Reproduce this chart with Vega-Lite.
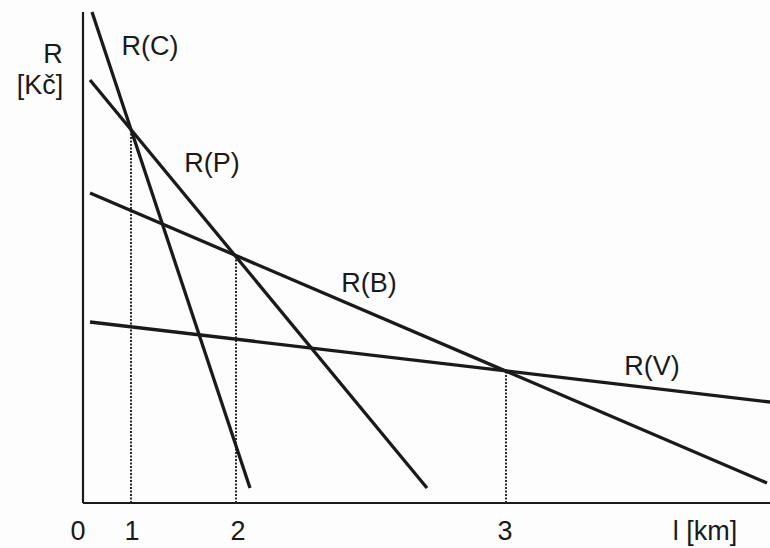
{
  "$schema": "https://vega.github.io/schema/vega-lite/v6.json",
  "width": 770,
  "height": 548,
  "autosize": {"type": "none"},
  "padding": 0,
  "background": "#fdfdfd",
  "config": {"view": {"stroke": null}},
  "datasets": {
    "lines": [
      {"series": "R(C)", "x": 9, "y": 491},
      {"series": "R(C)", "x": 167, "y": 15},
      {"series": "R(P)", "x": 7, "y": 423},
      {"series": "R(P)", "x": 344, "y": 15},
      {"series": "R(B)", "x": 7, "y": 310},
      {"series": "R(B)", "x": 684, "y": 20},
      {"series": "R(V)", "x": 7, "y": 181},
      {"series": "R(V)", "x": 687, "y": 101}
    ],
    "drops": [
      {"x": 48, "y": 0, "y2": 374},
      {"x": 153, "y": 0, "y2": 247},
      {"x": 423, "y": 0, "y2": 132}
    ],
    "axes": [
      {"x": 0, "x2": 0, "y": 0, "y2": 491},
      {"x": 0, "x2": 687, "y": 0, "y2": 0}
    ],
    "labels": [
      {"text": "R", "x": -30, "y": 440},
      {"text": "[Kč]", "x": -43, "y": 409},
      {"text": "R(C)", "x": 67, "y": 448},
      {"text": "R(P)", "x": 129, "y": 331},
      {"text": "R(B)", "x": 286, "y": 211},
      {"text": "R(V)", "x": 569, "y": 128},
      {"text": "0", "x": -5, "y": -37},
      {"text": "1", "x": 49, "y": -37},
      {"text": "2", "x": 155, "y": -37},
      {"text": "3", "x": 422, "y": -37},
      {"text": "l  [km]", "x": 622, "y": -37}
    ]
  },
  "layer": [
    {
      "data": {"name": "axes"},
      "mark": {"type": "rule", "color": "#1a1a1a", "strokeWidth": 2.2},
      "encoding": {
        "x": {"field": "x", "type": "quantitative", "scale": {"domain": [-83, 687], "nice": false, "zero": false}, "axis": null},
        "x2": {"field": "x2"},
        "y": {"field": "y", "type": "quantitative", "scale": {"domain": [-45, 503], "nice": false, "zero": false}, "axis": null},
        "y2": {"field": "y2"}
      }
    },
    {
      "data": {"name": "drops"},
      "mark": {"type": "rule", "color": "#2a2a2a", "strokeWidth": 2, "strokeDash": [2, 1.5]},
      "encoding": {
        "x": {"field": "x", "type": "quantitative"},
        "y": {"field": "y", "type": "quantitative"},
        "y2": {"field": "y2"}
      }
    },
    {
      "data": {"name": "lines"},
      "mark": {"type": "line", "color": "#1a1a1a", "strokeWidth": 3.3},
      "encoding": {
        "x": {"field": "x", "type": "quantitative"},
        "y": {"field": "y", "type": "quantitative"},
        "detail": {"field": "series"}
      }
    },
    {
      "data": {"name": "labels"},
      "mark": {"type": "text", "font": "Liberation Sans", "fontSize": 27, "color": "#1a1a1a", "align": "center", "baseline": "alphabetic"},
      "encoding": {
        "x": {"field": "x", "type": "quantitative"},
        "y": {"field": "y", "type": "quantitative"},
        "text": {"field": "text"}
      }
    }
  ]
}
